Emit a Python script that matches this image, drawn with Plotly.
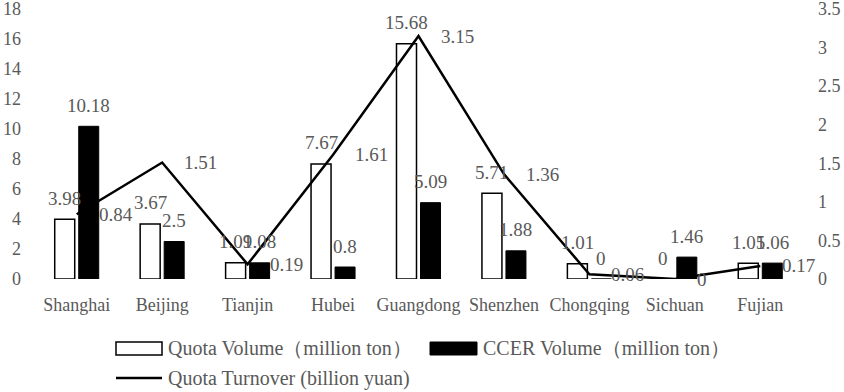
import plotly.graph_objects as go

categories = ["Shanghai", "Beijing", "Tianjin", "Hubei", "Guangdong",
              "Shenzhen", "Chongqing", "Sichuan", "Fujian"]
quota_volume = [3.98, 3.67, 1.09, 7.67, 15.68, 5.71, 1.01, 0, 1.05]
ccer_volume = [10.18, 2.5, 1.08, 0.8, 5.09, 1.88, 0, 1.46, 1.06]
quota_turnover = [0.84, 1.51, 0.19, 1.61, 3.15, 1.36, 0.06, 0, 0.17]

left_ticks = [0, 2, 4, 6, 8, 10, 12, 14, 16, 18]
right_ticks = [0, 0.5, 1, 1.5, 2, 2.5, 3, 3.5]
right_tick_text = ["0", "0.5", "1", "1.5", "2", "2.5", "3", "3.5"]

names = ["Quota Volume（million ton）", "CCER Volume（million ton）",
         "Quota Turnover (billion yuan)"]

FONT = "Liberation Serif, Times New Roman, serif"
GRAY = "#595959"
W, H = 844, 392
ML, MR, MT, MB = 34, 41, 9, 113

fig = go.Figure()
fig.add_trace(go.Bar(x=categories, y=quota_volume, name=names[0],
                     marker=dict(color="white", line=dict(color="black", width=1.5)),
                     showlegend=False))
fig.add_trace(go.Bar(x=categories, y=ccer_volume, name=names[1],
                     marker=dict(color="black", line=dict(color="black", width=1)),
                     showlegend=False))
fig.add_trace(go.Scatter(x=categories, y=quota_turnover, name=names[2], yaxis="y2",
                         mode="lines", line=dict(color="black", width=2.5),
                         showlegend=False))

ann = []
for c, q, v, t in zip(categories, quota_volume, ccer_volume, quota_turnover):
    ann.append(dict(x=c, y=q, xref="x", yref="y", text=f"{q:g}", showarrow=False,
                    xanchor="center", yanchor="middle", xshift=-12, yshift=21))
    ann.append(dict(x=c, y=v, xref="x", yref="y", text=f"{v:g}", showarrow=False,
                    xanchor="center", yanchor="middle", xshift=12, yshift=21))
    ann.append(dict(x=c, y=t, xref="x", yref="y2", text=f"{t:g}", showarrow=False,
                    xanchor="left", yanchor="middle", xshift=20))

# custom legend (paper coordinates derived from pixel layout)
pw, ph = W - ML - MR, H - MT - MB
def px(x):
    return (x - ML) / pw
def py(y):
    return (H - MB - y) / ph

shapes = [
    dict(type="rect", xref="paper", yref="paper", x0=px(116), x1=px(162), y0=py(355), y1=py(342),
         fillcolor="white", line=dict(color="black", width=1.5)),
    dict(type="rect", xref="paper", yref="paper", x0=px(430), x1=px(477), y0=py(355), y1=py(342),
         fillcolor="black", line=dict(color="black", width=1)),
    dict(type="line", xref="paper", yref="paper", x0=px(116), x1=px(162), y0=py(378), y1=py(378),
         line=dict(color="black", width=2.5)),
]
for xx, yy, nm in [(166, 348, names[0]), (481, 348, names[1]), (166, 378, names[2])]:
    ann.append(dict(x=px(xx), y=py(yy), xref="paper", yref="paper", text=nm, showarrow=False,
                    xanchor="left", yanchor="middle", font=dict(size=20, color=GRAY)))

fig.update_layout(
    width=W, height=H,
    margin=dict(l=ML, r=MR, t=MT, b=MB, pad=0, autoexpand=False),
    paper_bgcolor="white", plot_bgcolor="white",
    font=dict(family=FONT, size=19, color=GRAY),
    barmode="group", bargap=0.438, bargroupgap=0.167,
    showlegend=False,
    xaxis=dict(range=[-0.5, len(categories) - 0.5], showgrid=False, showline=False,
               zeroline=False, ticks="", automargin=False,
               tickfont=dict(size=18, color=GRAY), ticklabelstandoff=13),
    yaxis=dict(range=[0, 18], tickvals=left_ticks, showgrid=False, showline=False,
               zeroline=False, ticks="", ticklabelstandoff=12, ticklabeloverflow="allow",
               automargin=False, tickfont=dict(size=18, color=GRAY)),
    yaxis2=dict(range=[0, 3.5], tickvals=right_ticks, ticktext=right_tick_text,
                overlaying="y", side="right", showgrid=False, showline=False,
                zeroline=False, ticks="", ticklabelstandoff=14, ticklabeloverflow="allow",
                automargin=False, tickfont=dict(size=18, color=GRAY)),
    annotations=ann,
    shapes=shapes,
)

fig.write_html("out.html", config={"displayModeBar": False},
               post_script="document.body.style.margin='0';document.body.style.overflow='hidden';")
